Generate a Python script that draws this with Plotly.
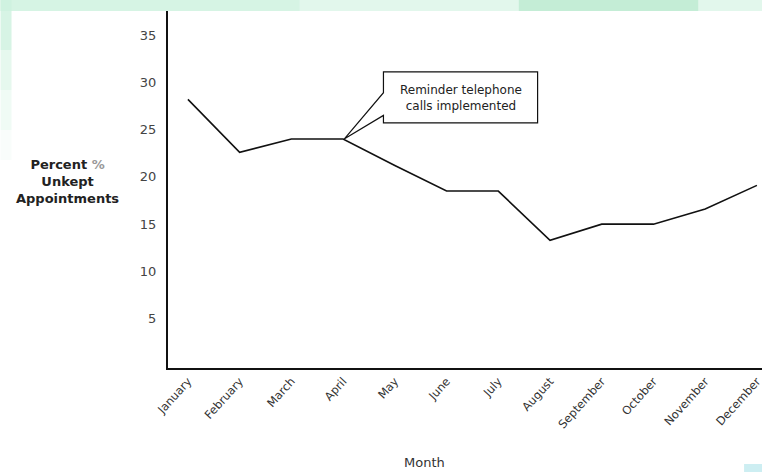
import plotly.graph_objects as go

months = ["January", "February", "March", "April", "May", "June", "July",
          "August", "September", "October", "November", "December"]
unkept_pct = [28.2, 22.6, 24.0, 24.0, 21.2, 18.5, 18.5, 13.3, 15.0, 15.0, 16.6, 19.1]
y_ticks = [5, 10, 15, 20, 25, 30, 35]
callout_text = "Reminder telephone<br>calls implemented"

W, H = 764, 472
L, R, T, B = 168, 0, 11, 104
PW, PH = W - L - R, H - T - B

def px(x):
    return (x - L) / PW

def py(y):
    return (H - B - y) / PH

xs = list(range(len(months)))

fig = go.Figure()
fig.add_trace(go.Scatter(x=xs, y=unkept_pct, mode="lines",
                         line=dict(color="#111111", width=1.6),
                         hoverinfo="skip", showlegend=False))

shapes = []
# slide background decorations (light green gradient strips)
shapes.append(dict(type="rect", xref="paper", yref="paper", x0=px(0), x1=px(W), y0=py(11), y1=py(0),
                   fillcolor="#e2f7ec", line=dict(width=0), layer="below"))
shapes.append(dict(type="rect", xref="paper", yref="paper", x0=px(520), x1=px(700), y0=py(11), y1=py(0),
                   fillcolor="#c4edd6", line=dict(width=0), layer="below"))
shapes.append(dict(type="rect", xref="paper", yref="paper", x0=px(0), x1=px(300), y0=py(11), y1=py(0),
                   fillcolor="#d6f4e4", line=dict(width=0), layer="below"))
for y0, y1, op in [(0, 50, 0.8), (50, 90, 0.5), (90, 130, 0.3), (130, 160, 0.12)]:
    shapes.append(dict(type="rect", xref="paper", yref="paper", x0=px(0), x1=px(11), y0=py(y1), y1=py(y0),
                       fillcolor="#cdf1de", opacity=op, line=dict(width=0), layer="below"))
shapes.append(dict(type="rect", xref="paper", yref="paper", x0=px(746), x1=px(764), y0=py(472), y1=py(464),
                   fillcolor="#cdeef2", line=dict(width=0), layer="below"))

# callout box
bx0, bx1, by0, by1 = 3.78, 6.76, 25.7, 31.1
tipx, tipy = 3.02, 24.0
att_hi, att_lo = 28.9, 26.5
path = (f"M {bx0},{by1} L {bx1},{by1} L {bx1},{by0} L {bx0},{by0} "
        f"L {bx0},{att_lo} L {tipx},{tipy} L {bx0},{att_hi} Z")
shapes.append(dict(type="path", xref="x", yref="y", path=path,
                   fillcolor="white", line=dict(color="#111111", width=1.2)))

fig.update_layout(
    width=W, height=H,
    margin=dict(l=L, r=R, t=T, b=B, pad=0),
    paper_bgcolor="white", plot_bgcolor="white",
    font=dict(family="DejaVu Sans", color="#333333"),
    shapes=shapes,
    xaxis=dict(range=[-0.385, 11.098], tickmode="array", tickvals=xs, ticktext=months,
               tickangle=-48, tickfont=dict(size=11.5, color="#333333"),
               ticklabeloverflow="allow",
               showline=True, linecolor="#111111", linewidth=2, mirror=False,
               showgrid=False, zeroline=False, ticks=""),
    yaxis=dict(range=[-0.21, 37.54], tickmode="array", tickvals=y_ticks,
               tickfont=dict(size=13, color="#444444"),
               showline=True, linecolor="#111111", linewidth=2,
               showgrid=False, zeroline=False, ticks="", ticklabelstandoff=7),
    annotations=[
        dict(text=callout_text, x=(bx0 + bx1) / 2, y=28.3, xref="x", yref="y",
             showarrow=False, font=dict(size=12, color="#222222"), align="center"),
        dict(text="<b>Percent <span style='color:#999999'>%</span><br>Unkept<br>Appointments</b>",
             x=px(67), y=py(181), xref="paper", yref="paper", showarrow=False,
             xanchor="center", yanchor="middle",
             font=dict(size=13, color="#222222"), align="center"),
        dict(text="Month", x=px(425), y=py(462), xref="paper", yref="paper",
             xanchor="center", yanchor="middle",
             showarrow=False, font=dict(size=13, color="#333333")),
    ],
)

fig.write_html("out.html")
